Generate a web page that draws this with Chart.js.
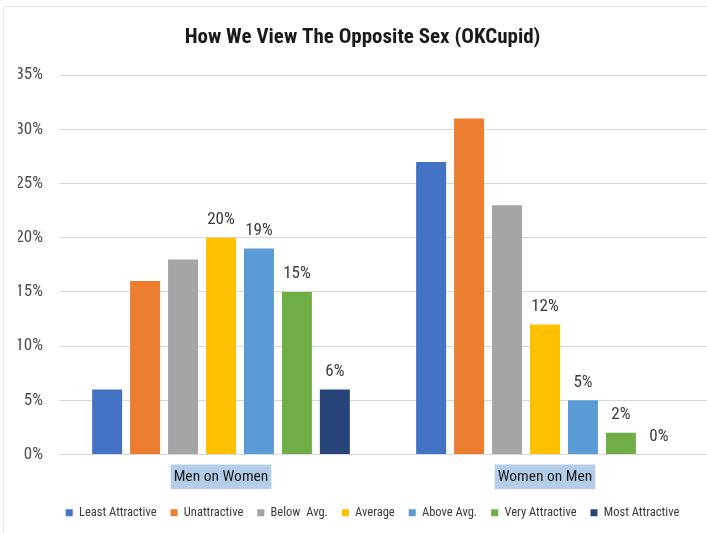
<!DOCTYPE html>
<html>
<head>
<meta charset="utf-8">
<script src="https://cdn.jsdelivr.net/npm/chart.js@4.4.1/dist/chart.umd.min.js"></script>
<style>
  html, body { margin: 0; padding: 0; background: #ffffff; }
  #wrap { width: 707px; height: 533px; position: relative; }
</style>
</head>
<body>
<div id="wrap"><canvas id="c" width="707" height="533"></canvas></div>
<script>
// ---- data ----
const categories = ['Men on Women', 'Women on Men'];
const seriesNames = ['Least Attractive', 'Unattractive', 'Below  Avg.', 'Average', 'Above Avg.', 'Very Attractive', 'Most Attractive'];
const leastAttractive = [6, 27];
const unattractive = [16, 31];
const belowAvg = [18, 23];
const average = [20, 12];
const aboveAvg = [19, 5];
const veryAttractive = [15, 2];
const mostAttractive = [6, 0];
const yTickValues = [0, 5, 10, 15, 20, 25, 30, 35];
const labelledSeries = [3, 4, 5, 6];

const seriesValues = [leastAttractive, unattractive, belowAvg, average, aboveAvg, veryAttractive, mostAttractive];
const seriesColors = ['#4472C4', '#ED7D31', '#A5A5A5', '#FFC000', '#5B9BD5', '#70AD47', '#264478'];

const FONT = "'Liberation Sans Narrow', 'Arial Narrow', 'Roboto Condensed', Lato, sans-serif";

const datasets = seriesNames.map((name, i) => ({
  label: name,
  data: seriesValues[i],
  backgroundColor: seriesColors[i],
  borderWidth: 0,
  categoryPercentage: 0.82,
  barPercentage: 0.79
}));

const bgPlugin = {
  id: 'bg',
  beforeDraw(chart) {
    const ctx = chart.ctx;
    ctx.save();
    ctx.fillStyle = '#ffffff';
    ctx.fillRect(0, 0, chart.width, chart.height);
    ctx.strokeStyle = '#e6e6e6';
    ctx.lineWidth = 1;
    ctx.beginPath();
    ctx.moveTo(3.5, chart.height);
    ctx.lineTo(3.5, 6.5);
    ctx.lineTo(chart.width, 6.5);
    ctx.stroke();
    ctx.restore();
  },
  afterLayout(chart) {
    if (chart.legend) {
      chart.legend.left += 10;
      chart.legend.right += 10;
    }
  }
};

const valueLabels = {
  id: 'valueLabels',
  afterDatasetsDraw(chart) {
    const ctx = chart.ctx;
    ctx.save();
    ctx.font = "17px " + FONT;
    ctx.fillStyle = '#3a3a3a';
    ctx.textAlign = 'center';
    ctx.textBaseline = 'middle';
    labelledSeries.forEach(di => {
      const meta = chart.getDatasetMeta(di);
      meta.data.forEach((bar, j) => {
        const v = chart.data.datasets[di].data[j];
        ctx.fillText(v + '%', bar.x, bar.y - 18);
      });
    });
    ctx.restore();
  }
};

new Chart(document.getElementById('c'), {
  type: 'bar',
  data: { labels: categories, datasets },
  plugins: [bgPlugin, valueLabels],
  options: {
    responsive: false,
    animation: false,
    devicePixelRatio: 1,
    layout: { padding: { left: 18, right: 0, top: 0, bottom: 4 } },
    plugins: {
      title: {
        display: true,
        text: 'How We View The Opposite Sex (OKCupid)',
        color: '#1a1a1a',
        font: { family: FONT, size: 21, weight: 'bold' },
        padding: { top: 25, bottom: 25 }
      },
      legend: {
        display: true,
        position: 'bottom',
        labels: {
          boxWidth: 7,
          boxHeight: 7,
          padding: 14,
          color: '#3a3a3a',
          font: { family: FONT, size: 12.5 }
        }
      },
      tooltip: { enabled: false }
    },
    scales: {
      x: {
        afterFit(scale) { scale.height = 38; },
        grid: { display: false, drawTicks: false },
        border: { display: true, color: '#d9d9d9' },
        ticks: {
          color: '#1a1a1a',
          font: { family: FONT, size: 15.5 },
          padding: 13,
          showLabelBackdrop: true,
          backdropColor: '#b4cde8',
          backdropPadding: { x: 3, y: 3 }
        }
      },
      y: {
        min: 0,
        max: 35,
        afterBuildTicks(scale) { scale.ticks = yTickValues.map(v => ({ value: v })); },
        afterFit(scale) { scale.width = 41; },
        grid: { color: '#d9d9d9', lineWidth: 1, drawTicks: false },
        border: { display: false },
        ticks: {
          color: '#4d4d4d',
          font: { family: FONT, size: 17 },
          padding: 16,
          callback: v => v + '%'
        }
      }
    }
  }
});
</script>
</body>
</html>
